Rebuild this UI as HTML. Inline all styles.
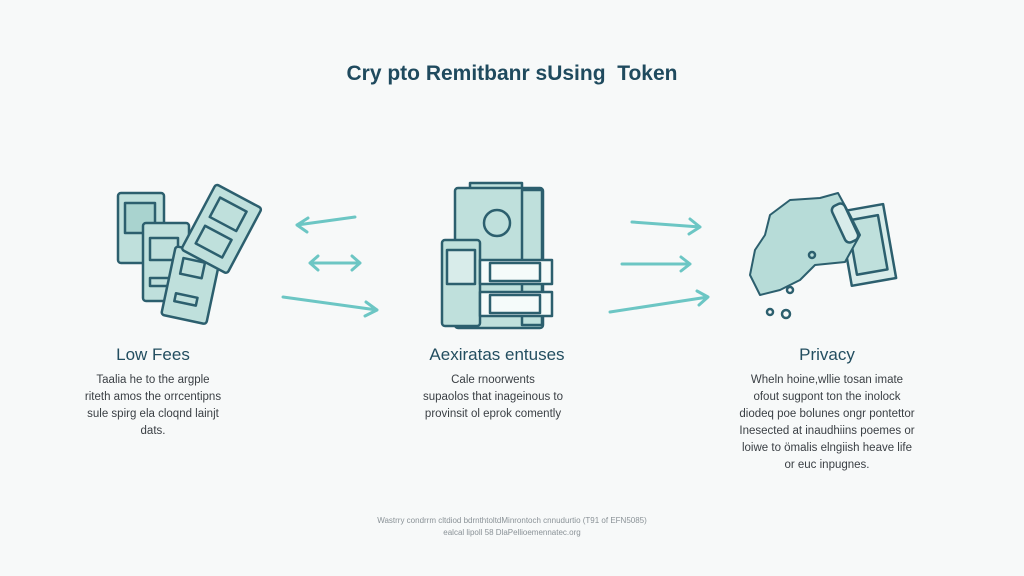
<!DOCTYPE html>
<html><head><style>
body{margin:0;width:1024px;height:576px;background:#f7f9f9;font-family:"Liberation Sans",sans-serif;position:relative;overflow:hidden}
.t{position:absolute;text-align:center;white-space:nowrap}
h1{position:absolute;top:62px;left:0;width:1024px;text-align:center;font-size:21px;font-weight:600;color:#1f4a5e;margin:0}
.h{font-size:17px;color:#234e60}
.b{font-size:11.5px;color:#3a3f44;line-height:17px}
</style></head><body>
<h1>Cry pto Remitbanr sUsing&nbsp; Token</h1>
<svg width="1024" height="576" style="position:absolute;left:0;top:0" fill="#bfe0dc" stroke="#2c5f6e" stroke-width="2.5" stroke-linejoin="round">
<rect x="118" y="193" width="46" height="70" rx="3"/>
<rect x="125" y="203" width="30" height="30" fill="#a9d3cf"/>
<rect x="143" y="223" width="46" height="78" rx="3"/>
<rect x="150" y="238" width="28" height="22"/>
<rect x="150" y="278" width="24" height="8"/>
<g transform="rotate(12 190 285)"><rect x="168" y="250" width="46" height="70" rx="3"/><rect x="178" y="260" width="22" height="16"/><rect x="178" y="296" width="22" height="8"/></g>
<g transform="rotate(28 222 228)"><rect x="196" y="192" width="52" height="74" rx="3"/><rect x="206" y="202" width="30" height="22"/><rect x="206" y="234" width="30" height="20"/></g>
<rect x="470" y="183" width="52" height="10"/>
<rect x="455" y="188" width="88" height="140" rx="3"/>
<rect x="522" y="190" width="20" height="135"/>
<circle cx="497" cy="223" r="13" fill="none"/>
<rect x="442" y="240" width="38" height="86" rx="3"/>
<rect x="447" y="250" width="28" height="34" fill="#d8ecea"/>
<rect x="480" y="260" width="72" height="24" fill="#f5fbfa"/><rect x="490" y="263" width="50" height="18" fill="#f5fbfa"/>
<rect x="480" y="292" width="72" height="24" fill="#f5fbfa"/><rect x="490" y="295" width="50" height="18" fill="#f5fbfa"/>
<g transform="rotate(-10 870 245)"><rect x="845" y="207" width="45" height="75" fill="#d8ecea"/><rect x="852" y="217" width="31" height="55"/></g>
<path d="M770 215 L790 200 L820 198 L838 193 L850 215 L860 235 L845 262 L815 265 L800 280 L780 290 L760 295 L750 275 L755 250 L765 235 Z" stroke-width="2" fill="#b7dcd8"/>
<rect x="838" y="203" width="14" height="40" rx="5" transform="rotate(-25 845 223)" fill="#d8ecea"/>
<circle cx="790" cy="290" r="3" fill="none"/><circle cx="770" cy="312" r="3" fill="none"/><circle cx="786" cy="314" r="4" fill="none"/><circle cx="812" cy="255" r="3" fill="none"/>
<g stroke="#6cc6c4" stroke-width="3" fill="none" stroke-linecap="round">
<path d="M355 217 L297 225 M308 218 L297 225 L307 232"/>
<path d="M310 263 L360 263 M318 256 L310 263 L318 270 M352 256 L360 263 L352 270"/>
<path d="M283 297 L377 310 M366 302 L377 310 L365 316"/>
<path d="M632 222 L700 227 M690 219 L700 227 L689 234"/>
<path d="M622 264 L690 264 M681 257 L690 264 L681 271"/>
<path d="M610 312 L708 297 M697 291 L708 297 L699 305"/>
</g>
</svg>
<div class="t h" style="left:53px;width:200px;top:345px">Low Fees</div>
<div class="t b" style="left:53px;width:200px;top:372px">Taalia he to the argple<br>riteth amos the orrcentipns<br>sule spirg ela cloqnd lainjt<br>dats.</div>
<div class="t h" style="left:397px;width:200px;top:345px">Aexiratas entuses</div>
<div class="t b" style="left:393px;width:200px;top:372px">Cale rnoorwents<br>supaolos that inageinous to<br>provinsit ol eprok comently</div>
<div class="t h" style="left:727px;width:200px;top:345px">Privacy</div>
<div class="t b" style="left:717px;width:220px;top:372px">Wheln hoine,wllie tosan imate<br>ofout sugpont ton the inolock<br>diodeq poe bolunes ongr pontettor<br>Inesected at inaudhiins poemes or<br>loiwe to ömalis elngiish heave life<br>or euc inpugnes.</div>
<div class="t" style="left:262px;width:500px;top:515px;font-size:8px;color:#8a9297;line-height:12px">Wastrry condrrm cltdiod bdrnthtoltdMinrontoch cnnudurtio (T91 of EFN5085)<br>ealcal lipoll 58 DlaPellioemennatec.org</div>
</body></html>
